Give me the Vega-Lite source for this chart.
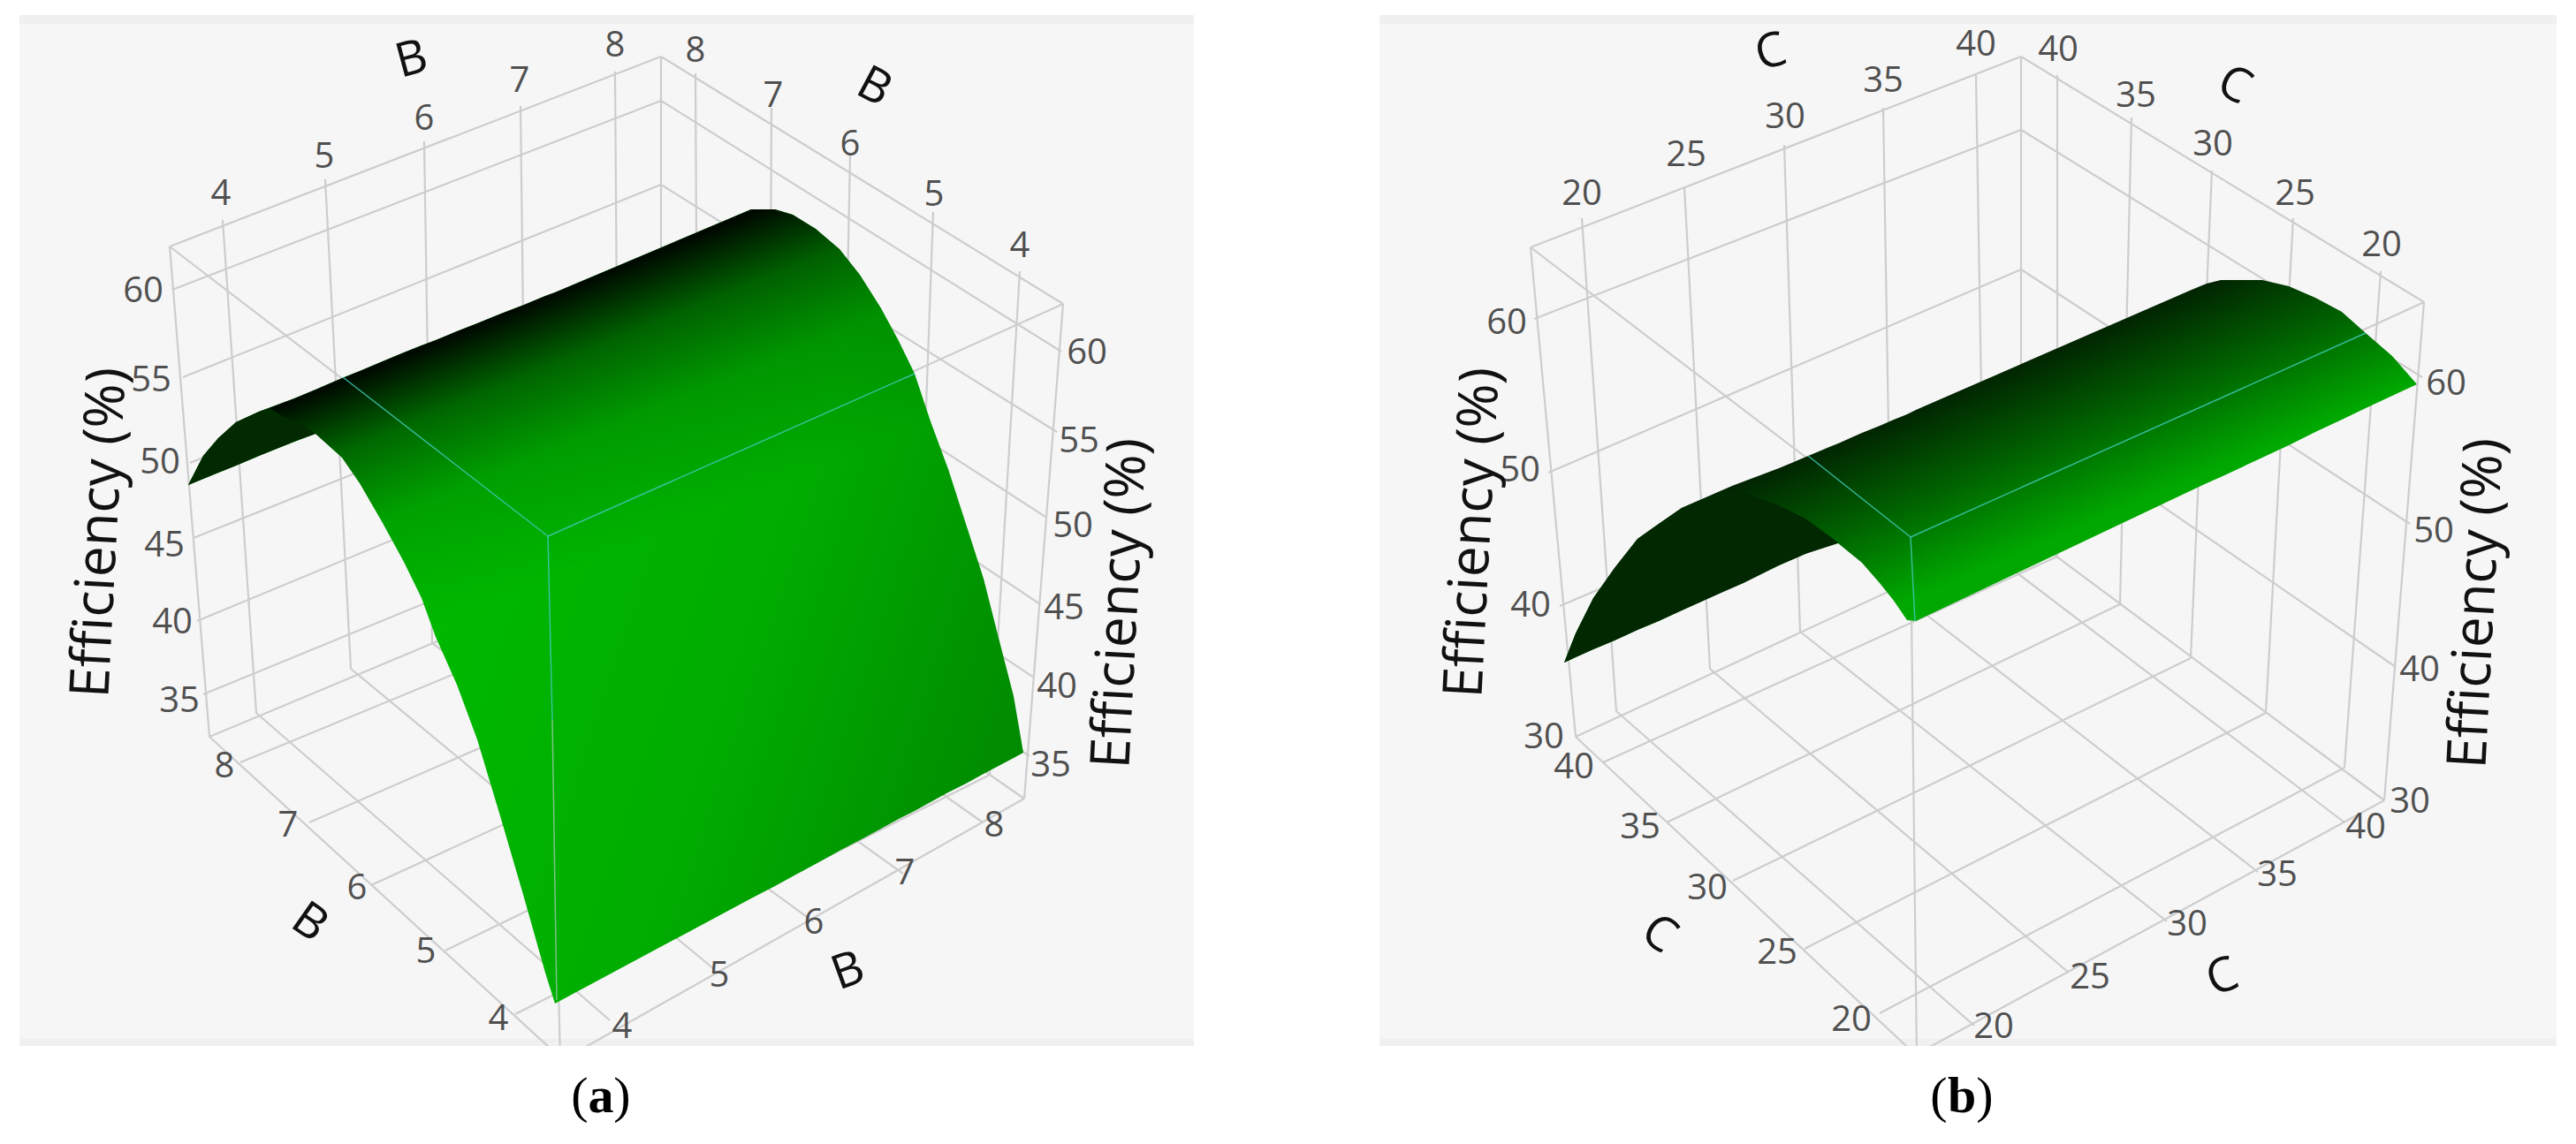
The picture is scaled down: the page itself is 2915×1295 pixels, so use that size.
{"$schema":"https://vega.github.io/schema/vega-lite/v6.json","padding":{"left":22,"top":17,"right":0,"bottom":0},"spacing":210,"bounds":"flush",
"datasets":{
"gridA":[{"x1":748,"y1":64,"x2":192,"y2":279},{"x1":748,"y1":64,"x2":1203,"y2":344},{"x1":192,"y1":279,"x2":620,"y2":607},{"x1":1203,"y1":344,"x2":620,"y2":607},{"x1":748,"y1":64,"x2":748,"y2":620},{"x1":192,"y1":279,"x2":237,"y2":834},{"x1":1203,"y1":344,"x2":1159,"y2":904},{"x1":620,"y1":607,"x2":634,"y2":1200},
{"x1":195,"y1":328,"x2":748,"y2":114},{"x1":207,"y1":427,"x2":748,"y2":209},{"x1":215,"y1":524,"x2":748,"y2":304},{"x1":219,"y1":609,"x2":748,"y2":397},{"x1":223,"y1":703,"x2":748,"y2":485},{"x1":230,"y1":786,"x2":748,"y2":573},
{"x1":1201,"y1":398,"x2":748,"y2":114},{"x1":1196,"y1":489,"x2":748,"y2":209},{"x1":1183,"y1":585,"x2":748,"y2":304},{"x1":1177,"y1":684,"x2":748,"y2":397},{"x1":1170,"y1":767,"x2":748,"y2":485},{"x1":1165,"y1":856,"x2":748,"y2":573},
{"x1":252,"y1":249,"x2":290,"y2":807},{"x1":368,"y1":203,"x2":397,"y2":757},{"x1":480,"y1":160,"x2":489,"y2":728},{"x1":589,"y1":120,"x2":596,"y2":684},{"x1":696,"y1":81,"x2":700,"y2":640},
{"x1":787,"y1":83,"x2":790,"y2":649},{"x1":873,"y1":122,"x2":870,"y2":704},{"x1":962,"y1":176,"x2":950,"y2":759},{"x1":1056,"y1":240,"x2":1035,"y2":818},{"x1":1154,"y1":307,"x2":1120,"y2":877},
{"x1":237,"y1":834,"x2":748,"y2":620},{"x1":1159,"y1":904,"x2":748,"y2":620},{"x1":237,"y1":834,"x2":635,"y2":1198},{"x1":1159,"y1":904,"x2":640,"y2":1198},
{"x1":272,"y1":863,"x2":790,"y2":649},{"x1":350,"y1":931,"x2":870,"y2":704},{"x1":420,"y1":1002,"x2":950,"y2":759},{"x1":504,"y1":1076,"x2":1035,"y2":818},{"x1":583,"y1":1148,"x2":1120,"y2":877},
{"x1":290,"y1":807,"x2":690,"y2":1155},{"x1":397,"y1":757,"x2":808,"y2":1097},{"x1":489,"y1":728,"x2":920,"y2":1043},{"x1":596,"y1":684,"x2":1022,"y2":989},{"x1":700,"y1":640,"x2":1112,"y2":931}],
"surfA":[{"sx":213,"top":549,"bottom":549},{"sx":230,"top":516,"bottom":542},{"sx":247,"top":496,"bottom":535},{"sx":267,"top":478,"bottom":527},{"sx":293,"top":466,"bottom":516},{"sx":333,"top":451,"bottom":500},{"sx":357,"top":441,"bottom":491},{"sx":387,"top":428,"bottom":518},{"sx":407,"top":420,"bottom":547},{"sx":433,"top":409,"bottom":592},{"sx":457,"top":399,"bottom":636},{"sx":477,"top":391,"bottom":677},{"sx":493,"top":385,"bottom":721},{"sx":517,"top":375,"bottom":775},{"sx":540,"top":366,"bottom":837},{"sx":567,"top":355,"bottom":927},{"sx":593,"top":345,"bottom":1016},{"sx":617,"top":335,"bottom":1101},{"sx":628,"top":331,"bottom":1136},{"sx":850,"top":237,"bottom":1017},{"sx":877,"top":237,"bottom":1003},{"sx":897,"top":243,"bottom":992},{"sx":923,"top":259,"bottom":978},{"sx":950,"top":282,"bottom":963},{"sx":973,"top":311,"bottom":951},{"sx":997,"top":349,"bottom":938},{"sx":1017,"top":386,"bottom":927},{"sx":1035,"top":423,"bottom":918},{"sx":1053,"top":477,"bottom":908},{"sx":1073,"top":531,"bottom":897},{"sx":1093,"top":593,"bottom":887},{"sx":1113,"top":655,"bottom":876},{"sx":1130,"top":722,"bottom":867},{"sx":1147,"top":788,"bottom":858},{"sx":1158,"top":852,"bottom":852}],
"backA":[{"sx":213,"top":549,"bottom":549},{"sx":230,"top":516,"bottom":542},{"sx":247,"top":496,"bottom":535},{"sx":267,"top":478,"bottom":527},{"sx":293,"top":466,"bottom":516},{"sx":305,"top":462,"bottom":511},{"sx":320,"top":471,"bottom":505},{"sx":340,"top":480,"bottom":497},{"sx":357,"top":491,"bottom":491}],
"cyanA":[{"x1":388,"y1":427,"x2":620,"y2":607},{"x1":1035,"y1":423,"x2":620,"y2":607},{"x1":620,"y1":607,"x2":625,"y2":815}],
"paleA":[{"x1":625,"y1":815,"x2":630,"y2":1132}],
"ticksA":[{"sx":250,"sy":220,"t":"4"},{"sx":367,"sy":178,"t":"5"},{"sx":480,"sy":135,"t":"6"},{"sx":588,"sy":92,"t":"7"},{"sx":696,"sy":52,"t":"8"},{"sx":787,"sy":58,"t":"8"},{"sx":875,"sy":109,"t":"7"},{"sx":962,"sy":164,"t":"6"},{"sx":1057,"sy":221,"t":"5"},{"sx":1154,"sy":279,"t":"4"},
{"sx":162,"sy":330,"t":"60"},{"sx":171,"sy":431,"t":"55"},{"sx":181,"sy":524,"t":"50"},{"sx":186,"sy":618,"t":"45"},{"sx":195,"sy":705,"t":"40"},{"sx":203,"sy":794,"t":"35"},
{"sx":1230,"sy":400,"t":"60"},{"sx":1221,"sy":500,"t":"55"},{"sx":1214,"sy":596,"t":"50"},{"sx":1204,"sy":689,"t":"45"},{"sx":1196,"sy":778,"t":"40"},{"sx":1189,"sy":867,"t":"35"},
{"sx":254,"sy":868,"t":"8"},{"sx":326,"sy":935,"t":"7"},{"sx":404,"sy":1006,"t":"6"},{"sx":482,"sy":1078,"t":"5"},{"sx":564,"sy":1154,"t":"4"},
{"sx":1125,"sy":935,"t":"8"},{"sx":1024,"sy":989,"t":"7"},{"sx":921,"sy":1045,"t":"6"},{"sx":814,"sy":1105,"t":"5"},{"sx":704,"sy":1163,"t":"4"}],
"gridB":[{"x1":2287,"y1":64,"x2":1732,"y2":280},{"x1":2287,"y1":64,"x2":2743,"y2":342},{"x1":1732,"y1":280,"x2":2162,"y2":608},{"x1":2743,"y1":342,"x2":2162,"y2":608},{"x1":2287,"y1":64,"x2":2287,"y2":600},{"x1":1732,"y1":280,"x2":1783,"y2":834},{"x1":2743,"y1":342,"x2":2698,"y2":906},{"x1":2162,"y1":608,"x2":2169,"y2":1200},
{"x1":1736,"y1":361,"x2":2287,"y2":147},{"x1":1752,"y1":535,"x2":2287,"y2":305},{"x1":1765,"y1":686,"x2":2287,"y2":463},{"x1":2741,"y1":427,"x2":2287,"y2":147},{"x1":2727,"y1":593,"x2":2287,"y2":305},{"x1":2711,"y1":755,"x2":2287,"y2":463},
{"x1":1790,"y1":247,"x2":1829,"y2":805},{"x1":1906,"y1":211,"x2":1935,"y2":757},{"x1":2019,"y1":164,"x2":2037,"y2":715},{"x1":2131,"y1":122,"x2":2140,"y2":665},{"x1":2236,"y1":85,"x2":2245,"y2":620},
{"x1":2328,"y1":85,"x2":2328,"y2":630},{"x1":2412,"y1":133,"x2":2399,"y2":684},{"x1":2503,"y1":193,"x2":2479,"y2":745},{"x1":2595,"y1":247,"x2":2564,"y2":807},{"x1":2694,"y1":307,"x2":2653,"y2":869},
{"x1":1783,"y1":834,"x2":2287,"y2":600},{"x1":2698,"y1":906,"x2":2287,"y2":600},{"x1":1783,"y1":834,"x2":2172,"y2":1198},{"x1":2698,"y1":906,"x2":2160,"y2":1198},
{"x1":1814,"y1":863,"x2":2328,"y2":630},{"x1":1886,"y1":931,"x2":2399,"y2":684},{"x1":1961,"y1":997,"x2":2479,"y2":745},{"x1":2042,"y1":1074,"x2":2564,"y2":807},{"x1":2127,"y1":1147,"x2":2653,"y2":869},
{"x1":1829,"y1":805,"x2":2234,"y2":1161},{"x1":1935,"y1":757,"x2":2341,"y2":1101},{"x1":2037,"y1":715,"x2":2452,"y2":1043},{"x1":2140,"y1":665,"x2":2555,"y2":987},{"x1":2245,"y1":620,"x2":2653,"y2":931}],
"surfB":[{"sx":1770,"top":750,"bottom":750},{"sx":1783,"top":717,"bottom":744},{"sx":1803,"top":677,"bottom":735},{"sx":1827,"top":643,"bottom":725},{"sx":1853,"top":610,"bottom":713},{"sx":1877,"top":593,"bottom":703},{"sx":1903,"top":575,"bottom":691},{"sx":1960,"top":550,"bottom":665},{"sx":2013,"top":530,"bottom":640},{"sx":2070,"top":506,"bottom":615},{"sx":2080,"top":502,"bottom":615},{"sx":2107,"top":490,"bottom":637},{"sx":2127,"top":482,"bottom":660},{"sx":2143,"top":475,"bottom":680},{"sx":2158,"top":469,"bottom":702},{"sx":2168,"top":464,"bottom":703},{"sx":2480,"top":328,"bottom":555},{"sx":2497,"top":321,"bottom":547},{"sx":2513,"top":317,"bottom":540},{"sx":2560,"top":317,"bottom":518},{"sx":2590,"top":324,"bottom":504},{"sx":2620,"top":337,"bottom":489},{"sx":2650,"top":353,"bottom":475},{"sx":2677,"top":377,"bottom":462},{"sx":2707,"top":403,"bottom":448},{"sx":2735,"top":435,"bottom":435}],
"backB":[{"sx":1770,"top":750,"bottom":750},{"sx":1783,"top":717,"bottom":744},{"sx":1803,"top":677,"bottom":735},{"sx":1827,"top":643,"bottom":725},{"sx":1853,"top":610,"bottom":713},{"sx":1877,"top":593,"bottom":703},{"sx":1903,"top":575,"bottom":691},{"sx":1950,"top":555,"bottom":670},{"sx":1973,"top":558,"bottom":660},{"sx":2013,"top":572,"bottom":640},{"sx":2043,"top":587,"bottom":627},{"sx":2080,"top":614,"bottom":615}],
"cyanB":[{"x1":2046,"y1":516,"x2":2162,"y2":608},{"x1":2677,"y1":377,"x2":2162,"y2":608},{"x1":2162,"y1":608,"x2":2167,"y2":703}],
"ticksB":[{"sx":1790,"sy":220,"t":"20"},{"sx":1908,"sy":176,"t":"25"},{"sx":2020,"sy":133,"t":"30"},{"sx":2131,"sy":92,"t":"35"},{"sx":2236,"sy":51,"t":"40"},{"sx":2329,"sy":57,"t":"40"},{"sx":2417,"sy":109,"t":"35"},{"sx":2504,"sy":164,"t":"30"},{"sx":2597,"sy":220,"t":"25"},{"sx":2695,"sy":278,"t":"20"},
{"sx":1705,"sy":366,"t":"60"},{"sx":1720,"sy":533,"t":"50"},{"sx":1732,"sy":686,"t":"40"},{"sx":1747,"sy":835,"t":"30"},{"sx":2768,"sy":435,"t":"60"},{"sx":2754,"sy":602,"t":"50"},{"sx":2738,"sy":759,"t":"40"},{"sx":2727,"sy":908,"t":"30"},
{"sx":1781,"sy":869,"t":"40"},{"sx":1856,"sy":937,"t":"35"},{"sx":1932,"sy":1006,"t":"30"},{"sx":2011,"sy":1079,"t":"25"},{"sx":2095,"sy":1155,"t":"20"},
{"sx":2677,"sy":937,"t":"40"},{"sx":2577,"sy":991,"t":"35"},{"sx":2475,"sy":1047,"t":"30"},{"sx":2365,"sy":1107,"t":"25"},{"sx":2256,"sy":1163,"t":"20"}]
},
"hconcat":[
{"width":1329,"height":1167,"view":{"fill":"#f6f6f6","stroke":null},"layer":[
{"data":{"values":[{"x1":22,"x2":1351,"y1":17,"y2":27},{"x1":22,"x2":1351,"y1":1176,"y2":1184}]},"mark":{"type":"rect","color":"#f0f0f0"},"encoding":{"x":{"field":"x1","type":"quantitative","axis":null,"scale":{"domain":[22,1351],"nice":false,"zero":false}},"x2":{"field":"x2"},"y":{"field":"y1","type":"quantitative","axis":null,"scale":{"domain":[17,1184],"reverse":true,"nice":false,"zero":false}},"y2":{"field":"y2"}}},
{"data":{"name":"gridA"},"mark":{"type":"rule","color":"#cdcdcd","strokeWidth":2.2,"clip":true},"encoding":{"x":{"field":"x1","type":"quantitative"},"x2":{"field":"x2"},"y":{"field":"y1","type":"quantitative"},"y2":{"field":"y2"}}},
{"data":{"name":"surfA"},"mark":{"type":"area","color":{"gradient":"linear","x1":0.2,"y1":0.5,"x2":1,"y2":0.75,"stops":[{"offset":0,"color":"#00bc00"},{"offset":0.55,"color":"#00ac00"},{"offset":1,"color":"#008800"}]}},"encoding":{"x":{"field":"sx","type":"quantitative"},"y":{"field":"top","type":"quantitative"},"y2":{"field":"bottom"}}},
{"data":{"name":"surfA"},"mark":{"type":"area","color":{"gradient":"linear","x1":0.686,"y1":0,"x2":0.815,"y2":0.3,"stops":[{"offset":0,"color":"rgba(0,0,0,0.95)"},{"offset":0.25,"color":"rgba(0,0,0,0.45)"},{"offset":0.55,"color":"rgba(0,0,0,0.14)"},{"offset":1,"color":"rgba(0,0,0,0)"}]}},"encoding":{"x":{"field":"sx","type":"quantitative"},"y":{"field":"top","type":"quantitative"},"y2":{"field":"bottom"}}},
{"data":{"name":"backA"},"mark":{"type":"area","color":"#012a01"},"encoding":{"x":{"field":"sx","type":"quantitative"},"y":{"field":"top","type":"quantitative"},"y2":{"field":"bottom"}}},
{"data":{"name":"cyanA"},"mark":{"type":"rule","color":"#3fc8b4","strokeWidth":1.5,"opacity":0.85},"encoding":{"x":{"field":"x1","type":"quantitative"},"x2":{"field":"x2"},"y":{"field":"y1","type":"quantitative"},"y2":{"field":"y2"}}},
{"data":{"name":"paleA"},"mark":{"type":"rule","color":"#9ac8a8","strokeWidth":1.5,"opacity":0.8},"encoding":{"x":{"field":"x1","type":"quantitative"},"x2":{"field":"x2"},"y":{"field":"y1","type":"quantitative"},"y2":{"field":"y2"}}},
{"data":{"name":"ticksA"},"mark":{"type":"text","font":"Open Sans","fontSize":40,"color":"#505050"},"encoding":{"x":{"field":"sx","type":"quantitative"},"y":{"field":"sy","type":"quantitative"},"text":{"field":"t"}}},
{"data":{"values":[{"sx":466,"sy":68,"t":"B"}]},"mark":{"type":"text","font":"Open Sans","fontSize":54,"color":"#111111","angle":-15},"encoding":{"x":{"field":"sx","type":"quantitative"},"y":{"field":"sy","type":"quantitative"},"text":{"field":"t"}}},
{"data":{"values":[{"sx":989,"sy":99,"t":"B"}]},"mark":{"type":"text","font":"Open Sans","fontSize":54,"color":"#111111","angle":28},"encoding":{"x":{"field":"sx","type":"quantitative"},"y":{"field":"sy","type":"quantitative"},"text":{"field":"t"}}},
{"data":{"values":[{"sx":350,"sy":1045,"t":"B"}]},"mark":{"type":"text","font":"Open Sans","fontSize":54,"color":"#111111","angle":35},"encoding":{"x":{"field":"sx","type":"quantitative"},"y":{"field":"sy","type":"quantitative"},"text":{"field":"t"}}},
{"data":{"values":[{"sx":960,"sy":1100,"t":"B"}]},"mark":{"type":"text","font":"Open Sans","fontSize":54,"color":"#111111","angle":-20},"encoding":{"x":{"field":"sx","type":"quantitative"},"y":{"field":"sy","type":"quantitative"},"text":{"field":"t"}}},
{"data":{"values":[{"sx":113,"sy":603,"t":"Efficiency (%)"}]},"mark":{"type":"text","font":"Open Sans","fontSize":62,"color":"#111111","angle":-87},"encoding":{"x":{"field":"sx","type":"quantitative"},"y":{"field":"sy","type":"quantitative"},"text":{"field":"t"}}},
{"data":{"values":[{"sx":1268,"sy":683,"t":"Efficiency (%)"}]},"mark":{"type":"text","font":"Open Sans","fontSize":62,"color":"#111111","angle":-87},"encoding":{"x":{"field":"sx","type":"quantitative"},"y":{"field":"sy","type":"quantitative"},"text":{"field":"t"}}},
{"data":{"values":[{"sx":656,"sy":1242,"t":"("},{"sx":704,"sy":1242,"t":")"}]},"mark":{"type":"text","font":"Liberation Serif","fontSize":58,"color":"#000000"},"encoding":{"x":{"field":"sx","type":"quantitative"},"y":{"field":"sy","type":"quantitative"},"text":{"field":"t"}}},
{"data":{"values":[{"sx":680,"sy":1242,"t":"a"}]},"mark":{"type":"text","font":"Liberation Serif","fontSize":58,"fontWeight":"bold","color":"#000000"},"encoding":{"x":{"field":"sx","type":"quantitative"},"y":{"field":"sy","type":"quantitative"},"text":{"field":"t"}}}
]},
{"width":1332,"height":1167,"view":{"fill":"#f6f6f6","stroke":null},"layer":[
{"data":{"values":[{"x1":1561,"x2":2893,"y1":17,"y2":27},{"x1":1561,"x2":2893,"y1":1176,"y2":1184}]},"mark":{"type":"rect","color":"#f0f0f0"},"encoding":{"x":{"field":"x1","type":"quantitative","axis":null,"scale":{"domain":[1561,2893],"nice":false,"zero":false}},"x2":{"field":"x2"},"y":{"field":"y1","type":"quantitative","axis":null,"scale":{"domain":[17,1184],"reverse":true,"nice":false,"zero":false}},"y2":{"field":"y2"}}},
{"data":{"name":"gridB"},"mark":{"type":"rule","color":"#cdcdcd","strokeWidth":2.2,"clip":true},"encoding":{"x":{"field":"x1","type":"quantitative"},"x2":{"field":"x2"},"y":{"field":"y1","type":"quantitative"},"y2":{"field":"y2"}}},
{"data":{"name":"surfB"},"mark":{"type":"area","color":{"gradient":"linear","x1":0.763,"y1":0,"x2":1.01,"y2":0.258,"stops":[{"offset":0,"color":"#012401"},{"offset":0.5,"color":"#006400"},{"offset":1,"color":"#00a800"}]}},"encoding":{"x":{"field":"sx","type":"quantitative"},"y":{"field":"top","type":"quantitative"},"y2":{"field":"bottom"}}},
{"data":{"name":"backB"},"mark":{"type":"area","color":"#012801"},"encoding":{"x":{"field":"sx","type":"quantitative"},"y":{"field":"top","type":"quantitative"},"y2":{"field":"bottom"}}},
{"data":{"name":"cyanB"},"mark":{"type":"rule","color":"#3fc8b4","strokeWidth":1.5,"opacity":0.85},"encoding":{"x":{"field":"x1","type":"quantitative"},"x2":{"field":"x2"},"y":{"field":"y1","type":"quantitative"},"y2":{"field":"y2"}}},
{"data":{"name":"ticksB"},"mark":{"type":"text","font":"Open Sans","fontSize":40,"color":"#505050"},"encoding":{"x":{"field":"sx","type":"quantitative"},"y":{"field":"sy","type":"quantitative"},"text":{"field":"t"}}},
{"data":{"values":[{"sx":2004,"sy":60,"t":"C"}]},"mark":{"type":"text","font":"Open Sans","fontSize":54,"color":"#111111","angle":-15},"encoding":{"x":{"field":"sx","type":"quantitative"},"y":{"field":"sy","type":"quantitative"},"text":{"field":"t"}}},
{"data":{"values":[{"sx":2528,"sy":97,"t":"C"}]},"mark":{"type":"text","font":"Open Sans","fontSize":54,"color":"#111111","angle":28},"encoding":{"x":{"field":"sx","type":"quantitative"},"y":{"field":"sy","type":"quantitative"},"text":{"field":"t"}}},
{"data":{"values":[{"sx":1877,"sy":1058,"t":"C"}]},"mark":{"type":"text","font":"Open Sans","fontSize":54,"color":"#111111","angle":35},"encoding":{"x":{"field":"sx","type":"quantitative"},"y":{"field":"sy","type":"quantitative"},"text":{"field":"t"}}},
{"data":{"values":[{"sx":2515,"sy":1107,"t":"C"}]},"mark":{"type":"text","font":"Open Sans","fontSize":54,"color":"#111111","angle":-20},"encoding":{"x":{"field":"sx","type":"quantitative"},"y":{"field":"sy","type":"quantitative"},"text":{"field":"t"}}},
{"data":{"values":[{"sx":1667,"sy":603,"t":"Efficiency (%)"}]},"mark":{"type":"text","font":"Open Sans","fontSize":62,"color":"#111111","angle":-87},"encoding":{"x":{"field":"sx","type":"quantitative"},"y":{"field":"sy","type":"quantitative"},"text":{"field":"t"}}},
{"data":{"values":[{"sx":2803,"sy":683,"t":"Efficiency (%)"}]},"mark":{"type":"text","font":"Open Sans","fontSize":62,"color":"#111111","angle":-87},"encoding":{"x":{"field":"sx","type":"quantitative"},"y":{"field":"sy","type":"quantitative"},"text":{"field":"t"}}},
{"data":{"values":[{"sx":2194,"sy":1242,"t":"("},{"sx":2246,"sy":1242,"t":")"}]},"mark":{"type":"text","font":"Liberation Serif","fontSize":58,"color":"#000000"},"encoding":{"x":{"field":"sx","type":"quantitative"},"y":{"field":"sy","type":"quantitative"},"text":{"field":"t"}}},
{"data":{"values":[{"sx":2220,"sy":1242,"t":"b"}]},"mark":{"type":"text","font":"Liberation Serif","fontSize":58,"fontWeight":"bold","color":"#000000"},"encoding":{"x":{"field":"sx","type":"quantitative"},"y":{"field":"sy","type":"quantitative"},"text":{"field":"t"}}}
]}
]}
